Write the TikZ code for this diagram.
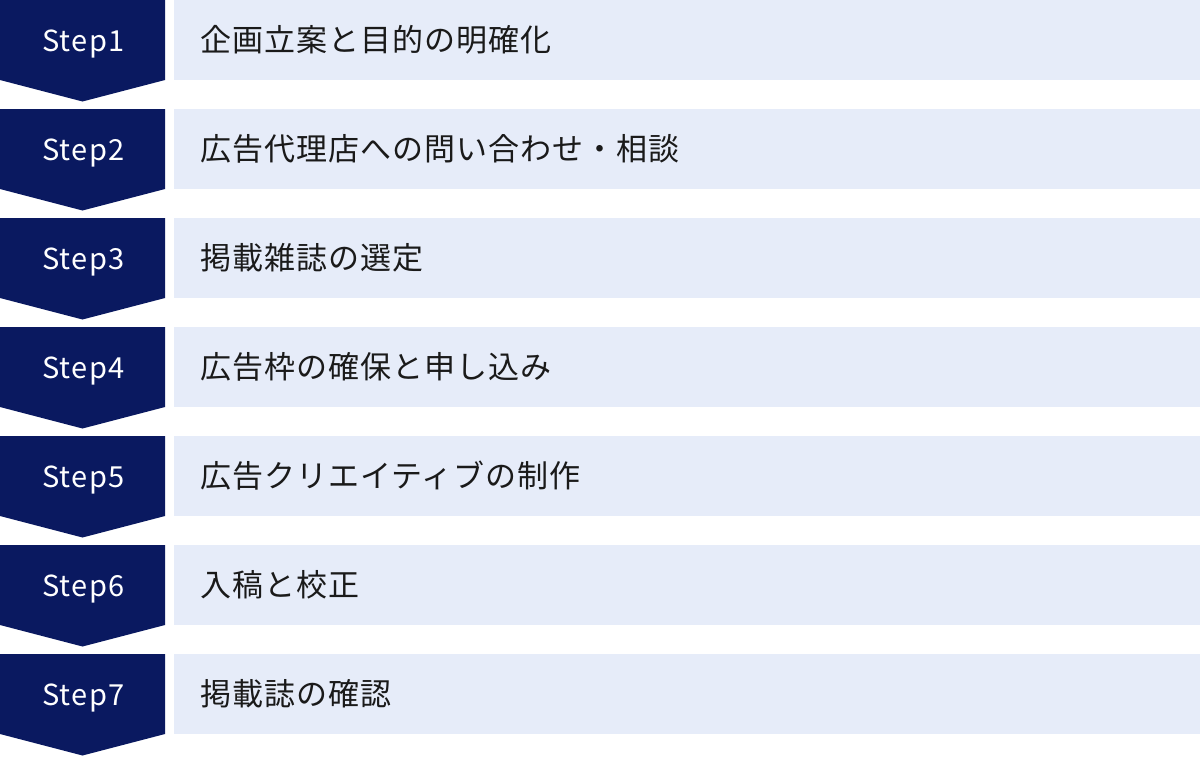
\documentclass[tikz,border=0pt]{standalone}
\usepackage{fontspec}
\newfontfamily\cjk[LetterSpace=3.2]{Noto Sans CJK JP}
\newfontfamily\cjkstep[LetterSpace=5]{Noto Sans CJK JP}
\definecolor{navy}{HTML}{0A1960}
\definecolor{lightbg}{HTML}{E6ECF9}
\definecolor{txt}{HTML}{1A1A1A}
\tikzset{
  stepbox/.style={fill=navy,draw=none},
  rowbox/.style={fill=lightbg,draw=none},
  steplabel/.style={text=white,font=\cjkstep\fontsize{29}{32}\selectfont,inner sep=0pt,anchor=center},
  rowlabel/.style={text=txt,font=\cjk\fontsize{31}{36}\selectfont,inner sep=0pt,anchor=west},
}
\begin{document}
\begin{tikzpicture}[x=1pt,y=-1pt]
\useasboundingbox (0,0) rectangle (1200,756);
\fill[white] (0,0) rectangle (1200,756);
\foreach \i/\t in {1/企画立案と目的の明確化,2/広告代理店への問い合わせ・相談,3/掲載雑誌の選定,4/広告枠の確保と申し込み,5/広告クリエイティブの制作,6/入稿と校正,7/掲載誌の確認}{
  \pgfmathsetmacro{\yo}{(\i-1)*109}
  \fill[stepbox] (0,\yo) -- (165,\yo) -- (165,\yo+80) -- (82.5,\yo+101.5) -- (0,\yo+80) -- cycle;
  \fill[rowbox] (174,\yo) rectangle (1200,\yo+80);
  \node[steplabel] (s\i) at (83.5,\yo+44) {Step\i};
  \node[rowlabel] (r\i) at (200,\yo+40) {\t};
}
\end{tikzpicture}
\end{document}
